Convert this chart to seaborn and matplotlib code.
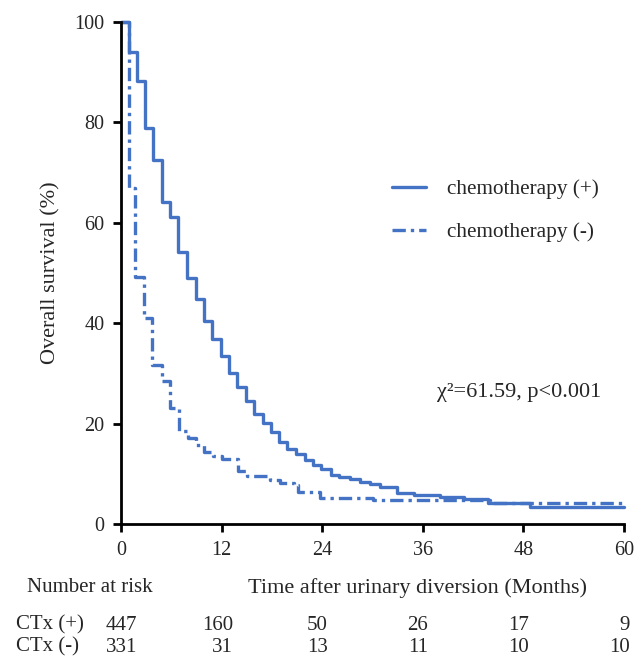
import pandas as pd
import matplotlib
matplotlib.use("Agg")
import matplotlib.pyplot as plt
import seaborn as sns

# Kaplan-Meier steps (months, % surviving)
months_pos = [0, 0.9, 1.85, 2.9, 3.85, 4.85, 5.85, 6.85, 7.85, 8.9, 9.9, 10.85,
              11.9, 12.9, 13.85, 14.9, 15.9, 16.9, 17.9, 18.9, 19.85, 20.9, 21.9,
              22.9, 23.9, 25, 26, 27.3, 28.5, 29.7, 30.9, 32.9, 34.9, 38.1, 40.9,
              43.8, 48.8, 60]
surv_pos = [100, 94.0, 88.2, 78.8, 72.6, 64.2, 61.1, 54.2, 49.1, 44.8, 40.5, 36.8,
            33.5, 30.0, 27.2, 24.5, 22.0, 20.1, 18.4, 16.3, 14.9, 13.9, 12.8,
            11.8, 10.9, 9.8, 9.4, 8.9, 8.4, 7.9, 7.3, 6.2, 5.8, 5.3, 4.9,
            4.1, 3.4, 3.3]

months_neg = [0, 0.9, 1.7, 2.8, 3.7, 4.85, 5.85, 6.9, 8.0, 9.0, 9.9, 11.0, 12.0,
              13.9, 15.0, 17.8, 19.0, 20.6, 21.1, 23.7, 30.0, 44.0, 60]
surv_neg = [100, 67.0, 49.3, 41.0, 31.7, 28.4, 23.2, 18.5, 17.1, 15.7, 14.3, 13.6,
            12.9, 10.6, 9.6, 8.8, 8.1, 7.8, 6.4, 5.1, 4.8, 4.2, 4.2]

risk_months = [0, 12, 24, 36, 48, 60]
risk_pos = [447, 160, 50, 26, 17, 9]
risk_neg = [331, 31, 13, 11, 10, 10]

blue = "#4472C4"
W, H = 638, 661

sns.set_style("ticks")
plt.rcParams['font.family'] = ['Liberation Serif', 'DejaVu Serif']

fig = plt.figure(figsize=(W / 100, H / 100), dpi=100)
ax = fig.add_axes([121 / W, 1 - 524 / H, 503 / W, 502 / H])

df_pos = pd.DataFrame({"month": months_pos, "surv": surv_pos})
df_neg = pd.DataFrame({"month": months_neg, "surv": surv_neg})

sns.lineplot(data=df_pos, x="month", y="surv", ax=ax, color=blue, lw=2.4,
             drawstyle="steps-post", estimator=None, sort=False,
             label="chemotherapy (+)", clip_on=False)
sns.lineplot(data=df_neg, x="month", y="surv", ax=ax, color=blue, lw=2.4,
             drawstyle="steps-post", estimator=None, sort=False,
             linestyle=(0, (4, 1.5, 1, 1.5)),
             label="chemotherapy (-)", clip_on=False)

ax.set_xlim(0, 60)
ax.set_ylim(0, 100)
ax.set_xticks(risk_months)
ax.set_yticks([0, 20, 40, 60, 80, 100])
ax.tick_params(labelsize=14.5, width=2, length=6, pad=6, color="black")
for s in ["left", "bottom"]:
    ax.spines[s].set_linewidth(2)
    ax.spines[s].set_color("black")
sns.despine(ax=ax)
ax.set_xlabel("")
ax.set_ylabel("Overall survival (%)", fontsize=16, labelpad=10)

ax.legend(loc="upper left", bbox_to_anchor=(0.5, 0.725), frameon=False,
          fontsize=15.3, handlelength=1.6, handletextpad=1.0, labelspacing=1.1)

ax.text((437 - 121) / 503, (524 - 393) / 502, "χ²=61.59, p<0.001",
        transform=ax.transAxes, fontsize=16, va="center")

# Number at risk table below the axes
fig.text(27 / W, 1 - 588 / H, "Number at risk", fontsize=15, va="center")
fig.text(248 / W, 1 - 588 / H, "Time after urinary diversion (Months)",
         fontsize=16, va="center")
fig.text(16 / W, 1 - 625 / H, "CTx (+)", fontsize=15, va="center")
fig.text(16 / W, 1 - 647 / H, "CTx (-)", fontsize=15, va="center")

col_right_px = [137, 233, 328, 428, 529, 630]
for i in range(len(risk_months)):
    fig.text(col_right_px[i] / W, 1 - 625 / H, str(risk_pos[i]),
             fontsize=15, ha="right", va="center")
    fig.text(col_right_px[i] / W, 1 - 647 / H, str(risk_neg[i]),
             fontsize=15, ha="right", va="center")

fig.savefig("out.png", dpi=100)
